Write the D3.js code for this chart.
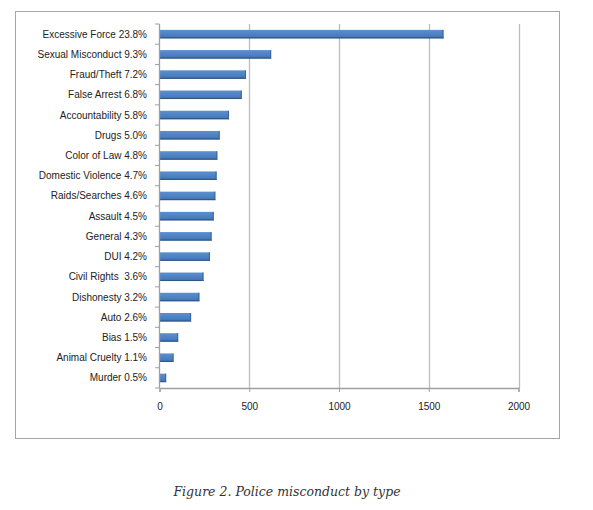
<!DOCTYPE html>
<html><head><meta charset="utf-8">
<script src="https://cdn.jsdelivr.net/npm/d3@7"></script>
<style>body{margin:0;background:#fff;}svg{display:block;}</style>
</head><body>
<script>
const categories = ["Excessive Force 23.8%","Sexual Misconduct 9.3%","Fraud/Theft 7.2%","False Arrest 6.8%","Accountability 5.8%","Drugs 5.0%","Color of Law 4.8%","Domestic Violence 4.7%","Raids/Searches 4.6%","Assault 4.5%","General 4.3%","DUI 4.2%","Civil Rights  3.6%","Dishonesty 3.2%","Auto 2.6%","Bias 1.5%","Animal Cruelty 1.1%","Murder 0.5%"];
const values = [1582,622,482,458,387,335,322,318,311,302,290,281,245,222,176,104,78,37];
const xTicks = [0,500,1000,1500,2000];
const caption = "Figure 2. Police misconduct by type";

const W=593,H=510;
const svg=d3.select("body").append("svg").attr("width",W).attr("height",H);
const defs=svg.append("defs");
const g=defs.append("linearGradient").attr("id","bg").attr("x1",0).attr("y1",0).attr("x2",0).attr("y2",1);
g.append("stop").attr("offset","0%").attr("stop-color","#5b8fcf");
g.append("stop").attr("offset","70%").attr("stop-color","#4a7dbd");
g.append("stop").attr("offset","100%").attr("stop-color","#3c6aa6");

// outer frame
svg.append("rect").attr("x",15.5).attr("y",11.5).attr("width",544).attr("height",427)
  .attr("fill","none").attr("stroke","#a6a6a6").attr("stroke-width",1);

const x=d3.scaleLinear().domain([0,2000]).range([159.5,518.5]);
const y=d3.scaleBand().domain(categories).range([24,388]).paddingInner(0.58).paddingOuter(0.29);

// gridlines
svg.append("g").selectAll("line").data(xTicks.slice(1)).join("line")
  .attr("x1",d=>Math.round(x(d))+0.5).attr("x2",d=>Math.round(x(d))+0.5)
  .attr("y1",24).attr("y2",388).attr("stroke","#bdbdbd").attr("stroke-width",1.3);

// bars
const bars=svg.append("g");
bars.selectAll("rect.b").data(values).join("rect").attr("class","b")
  .attr("x",x(0)).attr("y",(d,i)=>y(categories[i]))
  .attr("width",d=>x(d)-x(0)).attr("height",y.bandwidth())
  .attr("fill","url(#bg)");
bars.selectAll("line.s").data(values).join("line").attr("class","s")
  .attr("x1",x(0)).attr("x2",d=>x(d))
  .attr("y1",(d,i)=>y(categories[i])+y.bandwidth()-0.5)
  .attr("y2",(d,i)=>y(categories[i])+y.bandwidth()-0.5)
  .attr("stroke","#2f5684").attr("stroke-width",1);
bars.selectAll("line.r").data(values).join("line").attr("class","r")
  .attr("x1",d=>x(d)-0.5).attr("x2",d=>x(d)-0.5)
  .attr("y1",(d,i)=>y(categories[i]))
  .attr("y2",(d,i)=>y(categories[i])+y.bandwidth())
  .attr("stroke","#3a679e").attr("stroke-width",1);

// y axis
const step=y.step();
const yAxisG=svg.append("g");
yAxisG.append("line").attr("x1",159.5).attr("x2",159.5).attr("y1",24).attr("y2",388)
  .attr("stroke","#a0a0a0").attr("stroke-width",1.3);
const bounds=d3.range(categories.length+1).map(i=>24+i*(364/categories.length));
yAxisG.selectAll("line.t").data(bounds).join("line").attr("class","t")
  .attr("x1",155).attr("x2",159.5).attr("y1",d=>d).attr("y2",d=>d)
  .attr("stroke","#a0a0a0");
yAxisG.selectAll("text").data(categories).join("text")
  .attr("x",147).attr("y",d=>y(d)+y.bandwidth()/2)
  .attr("dy","0.35em").attr("text-anchor","end")
  .attr("font-family","'Liberation Sans',Arial,sans-serif").attr("font-size",10)
  .attr("fill","#222").style("white-space","pre").text(d=>d);

// x axis
const xa=svg.append("g").attr("transform","translate(0,388)")
  .call(d3.axisBottom(x).tickValues(xTicks).tickSize(4).tickPadding(11).tickFormat(d3.format("d")));
xa.select(".domain").attr("stroke","#a0a0a0").attr("stroke-width",1.3);
xa.selectAll(".tick line").attr("stroke","#a0a0a0");
xa.selectAll("text").attr("font-family","'Liberation Sans',Arial,sans-serif").attr("font-size",10).attr("fill","#222");

// caption
svg.append("text").attr("x",287).attr("y",496).attr("text-anchor","middle")
  .attr("font-family","'DejaVu Serif','Liberation Serif',serif").attr("font-style","italic")
  .attr("font-size",12.5).attr("fill","#333").text(caption);
</script>
</body></html>
